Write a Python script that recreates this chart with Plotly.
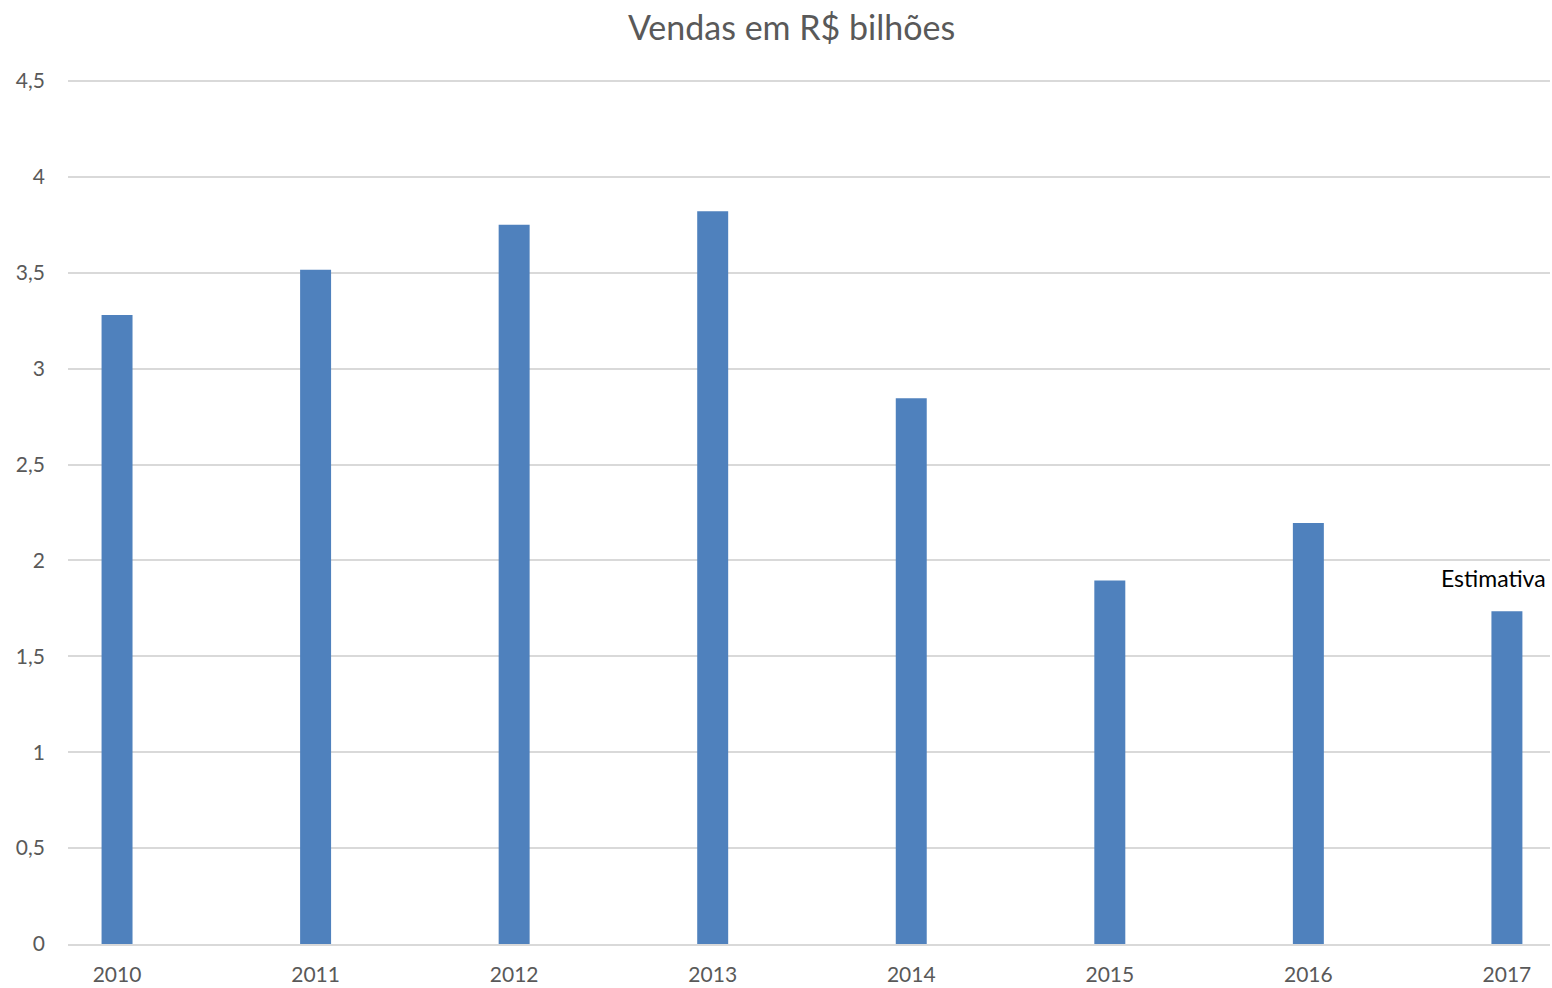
import plotly.graph_objects as go

years = ["2010", "2011", "2012", "2013", "2014", "2015", "2016", "2017"]
sales = [3.28, 3.515, 3.75, 3.82, 2.845, 1.895, 2.195, 1.735]
y_ticks = [0, 0.5, 1, 1.5, 2, 2.5, 3, 3.5, 4, 4.5]
note_text = "Estimativa"

FONT = "Lato, Open Sans, sans-serif"

fig = go.Figure()
fig.add_trace(go.Bar(
    x=years, y=sales, width=[0.156] * len(years),
    marker=dict(color="#4f81bd", line=dict(width=0)),
    hoverinfo="x+y",
))

fig.add_annotation(
    x=len(years) - 1, y=sales[-1], text=note_text, showarrow=False,
    xanchor="center", yanchor="bottom", xshift=-13, yshift=17,
    font=dict(family=FONT, size=23, color="#000000"),
)

fig.update_layout(
    width=1552, height=988,
    paper_bgcolor="white", plot_bgcolor="white",
    separators=",.",
    showlegend=False,
    margin=dict(l=68, r=2, t=79, b=44),
    title=dict(
        text="Vendas em R$ bilhões", x=0.51, xanchor="center", y=0.972, yanchor="middle",
        font=dict(family=FONT, size=34, color="#595959"),
    ),
    xaxis=dict(
        type="category", range=[-0.247, 7.217], showgrid=False, ticks="",
        showline=True, linecolor="#d9d9d9", linewidth=2,
        tickfont=dict(family=FONT, size=21, color="#595959"),
        ticklabelstandoff=11, fixedrange=True,
    ),
    yaxis=dict(
        range=[0, 4.51], tickvals=y_ticks, showgrid=True, gridcolor="#d9d9d9", gridwidth=2,
        zeroline=False, ticks="",
        tickfont=dict(family=FONT, size=21, color="#595959"),
        ticklabelstandoff=22, fixedrange=True,
    ),
)

fig.write_html(
    "out.html",
    config={"displayModeBar": False},
    post_script="document.body.style.margin='0';document.body.style.overflow='hidden';",
)
